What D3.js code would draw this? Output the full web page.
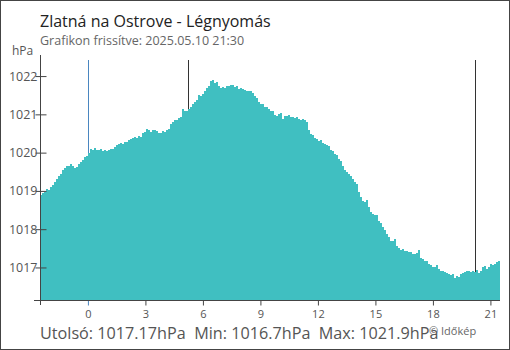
<!DOCTYPE html>
<html><head><meta charset="utf-8">
<script src="https://cdn.jsdelivr.net/npm/d3@7"></script>
<style>body{margin:0;background:#fff}svg{display:block;font-family:"Open Sans",sans-serif}</style>
</head><body><svg id="c" width="510" height="350"></svg>
<script>
const title = "Zlatná na Ostrove - Légnyomás";
const subtitle = "Grafikon frissítve: 2025.05.10 21:30";
const unit = "hPa";
const credit = "© Időkép";
const statLabels = ["Utolsó", "Min", "Max"];
const statValues = ["1017.17", "1016.7", "1021.9"];
const hourTicks = [0, 3, 6, 9, 12, 15, 18, 21];
const yTicks = [1017, 1018, 1019, 1020, 1021, 1022];
const hourDomain = [-2.5, 21.5];
const yDomain = [1016.15, 1022.42];
const midnightHours = [0];
const sunHours = [5.22, 20.2];
const pressure = [
1018.90,1018.95,1018.98,1019.05,1019.02,1019.10,1019.15,1019.22,1019.30,1019.38,
1019.45,1019.55,1019.60,1019.64,1019.66,1019.70,1019.66,1019.60,1019.62,1019.70,
1019.75,1019.80,1019.88,1019.92,1019.98,1020.10,1020.08,1020.12,1020.08,1020.06,
1020.10,1020.05,1020.07,1020.04,1020.08,1020.10,1020.09,1020.15,1020.19,1020.22,
1020.25,1020.22,1020.28,1020.27,1020.33,1020.35,1020.37,1020.40,1020.39,1020.43,
1020.42,1020.50,1020.55,1020.62,1020.58,1020.54,1020.59,1020.60,1020.56,1020.50,
1020.52,1020.56,1020.55,1020.58,1020.63,1020.75,1020.80,1020.86,1020.86,1020.90,
1020.92,1021.15,1021.10,1021.10,1021.14,1021.18,1021.28,1021.32,1021.38,1021.50,
1021.48,1021.53,1021.60,1021.68,1021.74,1021.86,1021.90,1021.82,1021.85,1021.75,
1021.68,1021.72,1021.68,1021.73,1021.74,1021.77,1021.76,1021.72,1021.74,1021.65,
1021.70,1021.66,1021.64,1021.62,1021.60,1021.62,1021.55,1021.47,1021.44,1021.32,
1021.28,1021.26,1021.20,1021.18,1021.14,1021.10,1021.08,1020.98,1020.95,1021.01,
1021.04,1020.88,1020.95,1020.97,1020.98,1020.94,1020.92,1020.90,1020.92,1020.89,
1020.86,1020.88,1020.84,1020.80,1020.58,1020.48,1020.45,1020.38,1020.36,1020.30,
1020.32,1020.25,1020.22,1020.20,1020.17,1020.06,1020.04,1019.97,1019.94,1019.84,
1019.78,1019.65,1019.55,1019.50,1019.43,1019.38,1019.30,1019.22,1019.18,1018.98,
1018.83,1018.74,1018.72,1018.76,1018.58,1018.45,1018.40,1018.36,1018.38,1018.22,
1018.15,1018.05,1017.98,1017.88,1017.80,1017.70,1017.68,1017.74,1017.55,1017.50,
1017.46,1017.48,1017.42,1017.42,1017.40,1017.41,1017.36,1017.35,1017.38,1017.45,
1017.25,1017.22,1017.18,1017.17,1017.08,1017.06,1017.02,1017.00,1017.07,1016.97,
1016.92,1016.90,1016.88,1016.86,1016.84,1016.80,1016.82,1016.72,1016.78,1016.76,
1016.82,1016.85,1016.88,1016.92,1016.90,1016.88,1016.90,1016.88,1016.94,1016.86,
1016.90,1017.00,1017.04,1016.97,1017.02,1017.08,1017.06,1017.08,1017.14,1017.17
];

const W = 510, H = 350;
const L = 40, R = 500, T = 60, B = 300;
const svg = d3.select("#c");

svg.append("rect").attr("x", 0.5).attr("y", 0.5).attr("width", W - 1).attr("height", H - 1)
  .attr("fill", "#fff").attr("stroke", "#444");

const x = d3.scaleLinear().domain(hourDomain).range([L, R]);
const xb = d3.scaleBand().domain(d3.range(pressure.length)).range([L, R]).padding(0);
const y = d3.scaleLinear().domain(yDomain).range([B, T]);

// reference lines (behind bars)
svg.selectAll(".mid").data(midnightHours).join("line")
  .attr("x1", d => Math.round(x(d)) + 0.5).attr("x2", d => Math.round(x(d)) + 0.5)
  .attr("y1", T).attr("y2", B).attr("stroke", "#4a86c0").attr("stroke-width", 1);
svg.selectAll(".sun").data(sunHours).join("line")
  .attr("x1", d => Math.round(x(d)) + 0.5).attr("x2", d => Math.round(x(d)) + 0.5)
  .attr("y1", T).attr("y2", B).attr("stroke", "#333").attr("stroke-width", 1);

// bars
svg.append("g").attr("shape-rendering", "crispEdges").selectAll("rect").data(pressure).join("rect")
  .attr("x", (d, i) => xb(i)).attr("width", xb.bandwidth())
  .attr("y", d => y(d)).attr("height", d => B - y(d)).attr("fill", "#40bfc1");

// y axis
const ya = svg.append("g").attr("transform", `translate(${L + 0.5},0)`)
  .call(d3.axisLeft(y).tickValues(yTicks).tickFormat(d3.format("d")).tickSizeInner(-6).tickSizeOuter(0).tickPadding(3));
ya.select(".domain").remove();
ya.selectAll(".tick line").attr("x1", -5).attr("stroke", "#444");
ya.selectAll(".tick text").attr("fill", "#555").style("font-size", "12.5px").style("font-family", '"Open Sans",sans-serif');
svg.append("line").attr("x1", L + 0.5).attr("x2", L + 0.5).attr("y1", 55).attr("y2", 305).attr("stroke", "#444");

// x axis
const xa = svg.append("g").attr("transform", `translate(0,${B + 0.5})`)
  .call(d3.axisBottom(x).tickValues(hourTicks).tickFormat(d3.format("d")).tickSize(5).tickPadding(5));
xa.select(".domain").remove();
xa.selectAll(".tick line").attr("stroke", d => midnightHours.includes(d) ? "#4a86c0" : "#444");
xa.selectAll(".tick text").attr("fill", "#555").style("font-size", "11px").style("font-family", '"Open Sans",sans-serif');
svg.append("line").attr("x1", 34).attr("x2", R).attr("y1", B + 0.5).attr("y2", B + 0.5).attr("stroke", "#444");

// texts
svg.append("text").attr("x", 40).attr("y", 27).text(title)
  .attr("fill", "#222").style("font-size", "16px");
svg.append("text").attr("x", 40).attr("y", 45).text(subtitle)
  .attr("fill", "#666").style("font-size", "12.5px");
svg.append("text").attr("x", 12).attr("y", 55).text(unit)
  .attr("fill", "#555").style("font-size", "12px");
svg.append("text").attr("x", 40).attr("y", 339)
  .text(statLabels.map((l, i) => `${l}: ${statValues[i]}${unit}`).join("\u00a0\u00a0"))
  .attr("fill", "#555").style("font-size", "16.2px");
svg.append("text").attr("x", 429).attr("y", 335).text(credit)
  .attr("fill", "#666").style("font-size", "11px");
</script></body></html>
